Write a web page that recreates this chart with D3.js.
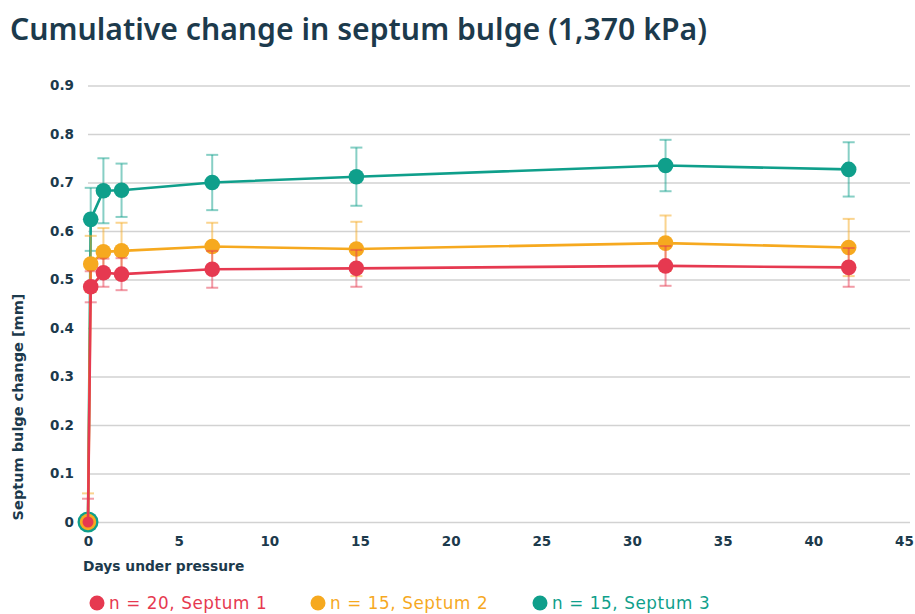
<!DOCTYPE html>
<html>
<head>
<meta charset="utf-8">
<script src="https://cdn.jsdelivr.net/npm/d3@7"></script>
<style>
  html, body { margin: 0; padding: 0; background: #ffffff; }
  svg { display: block; }
</style>
</head>
<body>
<svg id="chart" width="915" height="614"></svg>
<script>
// Days under pressure at each measurement
const days = [0, 0.15, 0.85, 1.85, 6.85, 14.8, 31.85, 41.95];

// Mean cumulative septum bulge change [mm] and error (±) per septum
const septum1 = [0, 0.485, 0.514, 0.511, 0.521, 0.523, 0.528, 0.525];
const septum1Err = [0.048, 0.032, 0.029, 0.033, 0.038, 0.038, 0.041, 0.040];
const septum2 = [0, 0.532, 0.557, 0.559, 0.568, 0.563, 0.575, 0.566];
const septum2Err = [0.059, 0.058, 0.049, 0.058, 0.049, 0.056, 0.057, 0.059];
const septum3 = [0, 0.624, 0.683, 0.684, 0.700, 0.712, 0.735, 0.727];
const septum3Err = [0, 0.065, 0.067, 0.055, 0.057, 0.060, 0.053, 0.056];

const seriesNames = ["n = 20, Septum 1", "n = 15, Septum 2", "n = 15, Septum 3"];
const xTicks = [0, 5, 10, 15, 20, 25, 30, 35, 40, 45];
const yTicks = [0, 0.1, 0.2, 0.3, 0.4, 0.5, 0.6, 0.7, 0.8, 0.9];

const titleText = "Cumulative change in septum bulge (1,370 kPa)";
const xTitle = "Days under pressure";
const yTitle = "Septum bulge change [mm]";

// Styling
const colors = ["#e63950", "#f6a91f", "#0f9f8b"];
const originRadius = [5.5, 8.2, 10.5];
const ink = "#1c3a4c";

const series = [
  { name: seriesNames[0], values: septum1, err: septum1Err, color: colors[0], r0: originRadius[0] },
  { name: seriesNames[1], values: septum2, err: septum2Err, color: colors[1], r0: originRadius[1] },
  { name: seriesNames[2], values: septum3, err: septum3Err, color: colors[2], r0: originRadius[2] }
];

const svg = d3.select("#chart");
const plot = { left: 88, right: 904, top: 85.5, bottom: 522, gridEnd: 910 };

const x = d3.scaleLinear().domain([0, 45]).range([plot.left, plot.right]);
const y = d3.scaleLinear().domain([0, 0.9]).range([plot.bottom, plot.top]);

// Error bars stay inside the plotting area
svg.append("defs").append("clipPath").attr("id", "plot-clip")
  .append("rect")
  .attr("x", 0).attr("y", 0)
  .attr("width", 915).attr("height", plot.bottom);

// Title
svg.append("text")
  .attr("x", 10).attr("y", 40)
  .attr("font-family", "'Noto Sans', sans-serif")
  .attr("font-weight", 600)
  .attr("font-size", 30.2)
  .attr("fill", ink)
  .text(titleText);

// Y axis with horizontal gridlines
const yAxis = svg.append("g")
  .attr("transform", `translate(${plot.left},0)`)
  .call(d3.axisLeft(y)
    .tickValues(yTicks)
    .tickFormat(d => d === 0 ? "0" : d3.format(".1f")(d))
    .tickSize(-(plot.gridEnd - plot.left))
    .tickPadding(14));
yAxis.select(".domain").remove();
yAxis.selectAll(".tick line").attr("stroke", "#d2d2d2").attr("stroke-width", 1.5);
yAxis.selectAll(".tick text")
  .attr("font-family", "'DejaVu Sans', sans-serif")
  .attr("font-weight", "bold")
  .attr("font-size", 13.5)
  .attr("fill", ink);

// X axis labels
const xAxis = svg.append("g")
  .attr("transform", `translate(0,${plot.bottom})`)
  .call(d3.axisBottom(x).tickValues(xTicks).tickSize(0).tickPadding(14));
xAxis.select(".domain").remove();
xAxis.selectAll(".tick text")
  .attr("font-family", "'DejaVu Sans', sans-serif")
  .attr("font-weight", "bold")
  .attr("font-size", 13.5)
  .attr("fill", ink);

// Axis titles
svg.append("text")
  .attr("x", 83).attr("y", 571)
  .attr("font-family", "'DejaVu Sans', sans-serif")
  .attr("font-weight", "bold")
  .attr("font-size", 13.8)
  .attr("fill", ink)
  .text(xTitle);

svg.append("text")
  .attr("transform", `translate(23,407) rotate(-90)`)
  .attr("text-anchor", "middle")
  .attr("font-family", "'DejaVu Sans', sans-serif")
  .attr("font-weight", "bold")
  .attr("font-size", 14.5)
  .attr("fill", ink)
  .text(yTitle);

// Series: teal drawn first so red sits on top
const line = d3.line().x(d => x(d.day)).y(d => y(d.v));
const capHalf = 6;

series.slice().reverse().forEach(s => {
  const pts = days.map((day, i) => ({ day, v: s.values[i], e: s.err[i], i }));
  const g = svg.append("g");

  // Error bars
  const eb = g.append("g")
    .attr("clip-path", "url(#plot-clip)")
    .attr("stroke", s.color)
    .attr("stroke-opacity", 0.5)
    .attr("stroke-width", 2)
    .attr("fill", "none");
  pts.filter(p => p.e > 0).forEach(p => {
    const cx = x(p.day);
    eb.append("line").attr("x1", cx).attr("x2", cx).attr("y1", y(p.v - p.e)).attr("y2", y(p.v + p.e));
    eb.append("line").attr("x1", cx - capHalf).attr("x2", cx + capHalf).attr("y1", y(p.v + p.e)).attr("y2", y(p.v + p.e));
    eb.append("line").attr("x1", cx - capHalf).attr("x2", cx + capHalf).attr("y1", y(p.v - p.e)).attr("y2", y(p.v - p.e));
  });

  // Line
  g.append("path")
    .datum(pts)
    .attr("d", line)
    .attr("fill", "none")
    .attr("stroke", s.color)
    .attr("stroke-width", 2.6)
    .attr("stroke-linejoin", "round");

  // Points
  g.selectAll("circle")
    .data(pts)
    .join("circle")
    .attr("cx", d => x(d.day))
    .attr("cy", d => y(d.v))
    .attr("r", d => d.i === 0 ? s.r0 : 7.8)
    .attr("fill", s.color);
});

// Legend
const legendX = [97, 318, 540];
const legend = svg.append("g");
series.forEach((s, i) => {
  const lg = legend.append("g").attr("transform", `translate(${legendX[i]},603)`);
  lg.append("circle").attr("r", 7.5).attr("fill", s.color);
  lg.append("text")
    .attr("x", 12).attr("y", 0).attr("dy", "0.36em")
    .attr("font-family", "'DejaVu Sans', sans-serif")
    .attr("font-size", 16.8)
    .attr("letter-spacing", 0.6)
    .attr("fill", s.color)
    .text(s.name);
});
</script>
</body>
</html>
